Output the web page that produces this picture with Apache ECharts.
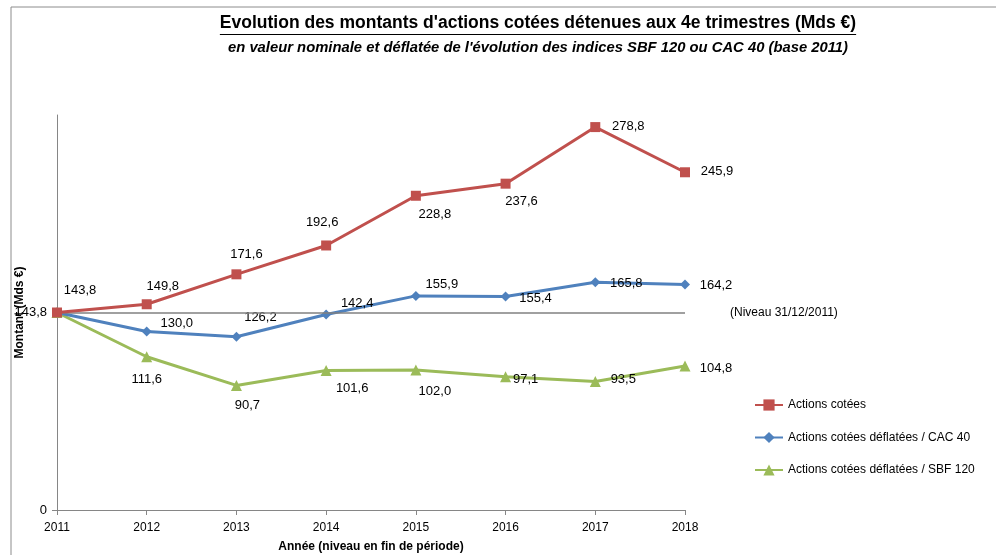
<!DOCTYPE html>
<html><head><meta charset="utf-8">
<script src="https://cdn.jsdelivr.net/npm/echarts@6/dist/echarts.min.js"></script>
<style>html,body{margin:0;padding:0;background:#fff}#c{width:996px;height:555px}</style>
</head><body><div id="c"></div>
<script>
const years = ['2011','2012','2013','2014','2015','2016','2017','2018'];
const actionsCotees = [143.8, 149.8, 171.6, 192.6, 228.8, 237.6, 278.8, 245.9];
const deflateesCAC40 = [143.8, 130.0, 126.2, 142.4, 155.9, 155.4, 165.8, 164.2];
const deflateesSBF120 = [143.8, 111.6, 90.7, 101.6, 102.0, 97.1, 93.5, 104.8];
const niveau2011 = 143.8;
const yTicks = [0, 143.8, 287.6];
const seriesNames = ['Actions cotées', 'Actions cotées déflatées / CAC 40', 'Actions cotées déflatées / SBF 120'];

// label offsets (style only)
const offRed = [[23,-22],[16,-18],[10,-20],[-4,-23],[19,19],[16,18],[33,-1],[32,-1]];
const offBlue = [null,[30,-8],[24,-19],[31,-11],[26,-11],[30,2],[31,1],[31,1]];
const offGreen = [null,[0,23],[11,20],[26,18],[19,22],[20,3],[28,-2],[31,2]];

const fmt = v => v.toFixed(1).replace('.', ',');
const LBL = {fontFamily:'Liberation Sans', fontSize:13, color:'#000'};

function build(vals, offs) {
  return vals.map((v, i) => {
    const o = offs[i];
    if (!o) return {value: v, label: {show: false}};
    return {value: v, label: Object.assign({show: true, position: 'inside', offset: o, formatter: fmt(v)}, LBL)};
  });
}

const chart = echarts.init(document.getElementById('c'), null, {renderer: 'canvas'});

const titleText = "Evolution des montants d'actions cotées détenues aux 4e trimestres (Mds €)";
const titleFont = 'bold 17.5px "Liberation Sans"';
const cv = document.createElement('canvas').getContext('2d');
cv.font = titleFont;
const tw = cv.measureText(titleText).width;
const tcx = 538;

chart.setOption({
  backgroundColor: '#fff',
  animation: false,
  title: [
    {text: titleText, left: tcx, top: 14, textAlign: 'center', padding: 0,
     textStyle: {fontFamily: 'Liberation Sans', fontWeight: 'bold', fontSize: 17.5, color: '#000'}},
    {text: "en valeur nominale et déflatée de l'évolution des indices SBF 120 ou CAC 40 (base 2011)", left: tcx, top: 40, textAlign: 'center', padding: 0,
     textStyle: {fontFamily: 'Liberation Sans', fontWeight: 'bold', fontStyle: 'italic', fontSize: 14.8, color: '#000'}}
  ],
  graphic: [
    {type: 'rect', shape: {x: 11, y: 7, width: 1100, height: 700}, style: {fill: 'none', stroke: '#8c8c8c', lineWidth: 1}, silent: true},
    {type: 'line', shape: {x1: tcx - tw/2, y1: 34.5, x2: tcx + tw/2, y2: 34.5}, style: {stroke: '#000', lineWidth: 1}, silent: true}
  ],
  legend: {
    orient: 'vertical', left: 749, top: 394, itemWidth: 28, itemHeight: 14, itemGap: 20.5,
    data: seriesNames,
    textStyle: {fontFamily: 'Liberation Sans', fontSize: 12, color: '#000'}
  },
  grid: {left: 57, right: 311, top: 115, bottom: 45, containLabel: false, outerBoundsMode: 'none'},
  xAxis: {
    type: 'category', data: years, boundaryGap: false,
    name: 'Année (niveau en fin de période)', nameLocation: 'middle', nameGap: 31, nameMoveOverlap: false,
    nameTextStyle: {fontFamily: 'Liberation Sans', fontWeight: 'bold', fontSize: 12, color: '#000'},
    axisLine: {lineStyle: {color: '#868686', width: 1}},
    axisTick: {show: true, length: 5, lineStyle: {color: '#868686'}},
    axisLabel: {margin: 12, fontFamily: 'Liberation Sans', fontSize: 12, color: '#000'}
  },
  yAxis: {
    type: 'value', min: yTicks[0], max: yTicks[2], interval: yTicks[1] - yTicks[0],
    name: 'Montant (Mds €)', nameLocation: 'middle', nameGap: 31, nameRotate: 90, nameMoveOverlap: false,
    nameTextStyle: {fontFamily: 'Liberation Sans', fontWeight: 'bold', fontSize: 12, color: '#000'},
    axisLine: {show: true, lineStyle: {color: '#868686', width: 1}},
    axisTick: {show: true, length: 5, lineStyle: {color: '#868686'}, customValues: [yTicks[0], yTicks[1]]},
    splitLine: {show: false},
    axisLabel: {margin: 10, fontFamily: 'Liberation Sans', fontSize: 13, color: '#000',
      customValues: [yTicks[0], yTicks[1]],
      formatter: v => (Math.abs(v) < 1e-6 ? '0' : fmt(v))}
  },
  series: [
    {name: seriesNames[2], type: 'line', data: build(deflateesSBF120, offGreen), symbol: 'triangle', symbolSize: 11,
     lineStyle: {color: '#9BBB59', width: 3}, itemStyle: {color: '#9BBB59'}, z: 3},
    {name: seriesNames[1], type: 'line', data: build(deflateesCAC40, offBlue), symbol: 'diamond', symbolSize: 10,
     lineStyle: {color: '#4F81BD', width: 3}, itemStyle: {color: '#4F81BD'}, z: 4},
    {name: seriesNames[0], type: 'line', data: build(actionsCotees, offRed), symbol: 'rect', symbolSize: 10,
     lineStyle: {color: '#C0504D', width: 3}, itemStyle: {color: '#C0504D'}, z: 5,
     markLine: {silent: true, symbol: ['none','none'], animation: false,
       lineStyle: {color: '#808080', width: 1.5, type: 'solid'},
       label: {show: true, position: 'end', distance: 45, formatter: '(Niveau 31/12/2011)', fontFamily: 'Liberation Sans', fontSize: 12, color: '#000'},
       data: [{yAxis: niveau2011}]}}
  ]
});
</script></body></html>
